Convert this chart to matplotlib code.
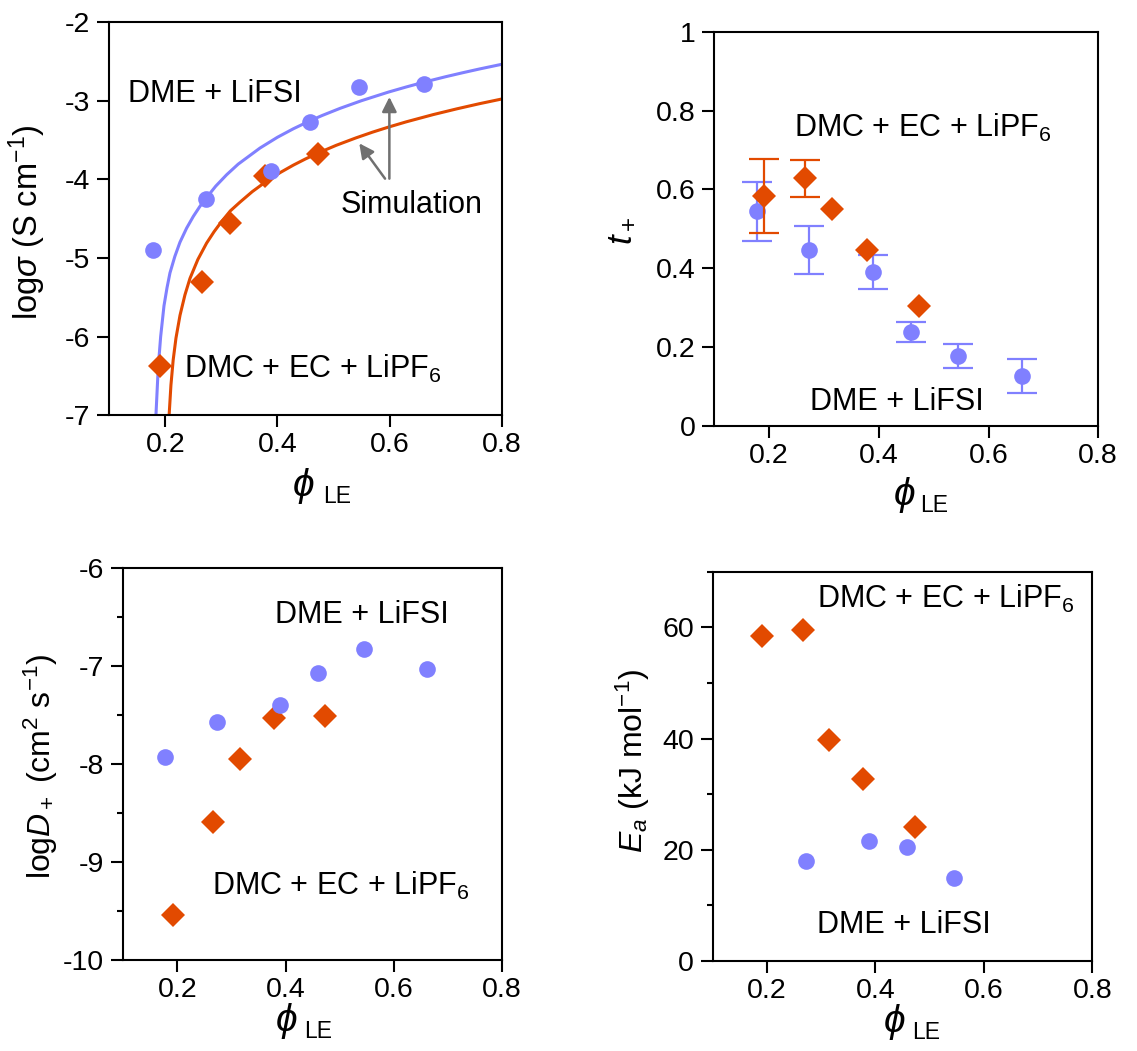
import numpy as np
import matplotlib
matplotlib.use('Agg')
import matplotlib.pyplot as plt
from matplotlib.ticker import MultipleLocator, FuncFormatter

plt.rcParams['font.family'] = ['Liberation Sans', 'DejaVu Sans']
plt.rcParams['mathtext.fontset'] = 'custom'
plt.rcParams['mathtext.rm'] = 'Liberation Sans'
plt.rcParams['mathtext.it'] = 'Liberation Sans:italic'
plt.rcParams['axes.unicode_minus'] = False

blue = '#8080FF'
orange = '#E24A00'

# volume fraction of liquid electrolyte for both systems
phi_dme = np.array([0.178, 0.273, 0.389, 0.459, 0.545, 0.661])
phi_dmc = np.array([0.191, 0.266, 0.315, 0.378, 0.4725])

# log conductivity (S/cm)
logsig_dme = [-4.90, -4.25, -3.89, -3.27, -2.82, -2.79]
logsig_dmc = [-6.37, -5.31, -4.55, -3.95, -3.68]

# simulated conductivity curves
sim_phi_dme = [0.1833, 0.1874, 0.1917, 0.1976, 0.2030, 0.2083, 0.2170, 0.2261, 0.2380,
               0.2500, 0.2615, 0.2737, 0.2900, 0.3094, 0.3300, 0.3689, 0.4000, 0.4283,
               0.4599, 0.4800, 0.5116, 0.5500, 0.5978, 0.6300, 0.6615, 0.7000, 0.7300,
               0.7600, 0.8000]
sim_sig_dme = [-7.00, -6.39, -6.00, -5.61, -5.38, -5.19, -4.98, -4.80, -4.62,
               -4.47, -4.345, -4.23, -4.085, -3.94, -3.805, -3.60, -3.463, -3.355,
               -3.247, -3.185, -3.095, -2.997, -2.888, -2.822, -2.761, -2.692, -2.642,
               -2.594, -2.534]
sim_phi_dmc = [0.2068, 0.2100, 0.2140, 0.2190, 0.2262, 0.2350, 0.2440, 0.2580, 0.2737,
               0.2870, 0.3005, 0.3160, 0.3332, 0.3550, 0.3808, 0.4050, 0.4283, 0.4500,
               0.4740, 0.5050, 0.5400, 0.5700, 0.5978, 0.6300, 0.6780, 0.7200, 0.7600,
               0.8000]
sim_sig_dmc = [-7.00, -6.62, -6.30, -6.02, -5.73, -5.47, -5.26, -5.02, -4.81,
               -4.665, -4.535, -4.40, -4.289, -4.156, -4.021, -3.912, -3.818, -3.739,
               -3.659, -3.565, -3.471, -3.397, -3.334, -3.266, -3.174, -3.101, -3.036,
               -2.976]

# cation transference number
tplus_dme = [0.544, 0.446, 0.391, 0.238, 0.178, 0.127]
tplus_dme_err = [0.075, 0.061, 0.043, 0.026, 0.031, 0.043]
tplus_dmc = [0.583, 0.628, 0.549, 0.445, 0.304]
tplus_dmc_err = [0.093, 0.047, 0.0, 0.0, 0.0]

# log cation diffusivity (cm2/s)
logD_dme = [-7.93, -7.57, -7.40, -7.07, -6.82, -7.03]
logD_dmc = [-9.54, -8.59, -7.95, -7.525, -7.51]

# activation energy (kJ/mol)
phi_ea_dme = phi_dme[1:5]
ea_dme = [18.0, 21.6, 20.5, 15.0]
ea_dmc = [58.5, 59.5, 39.7, 32.8, 24.1]

fmt = FuncFormatter(lambda v, p: f'{v:g}')
lbl_dme = 'DME + LiFSI'
lbl_dmc = 'DMC + EC + LiPF$_6$'


def style(ax, ylim, ymajor, yminor=None):
    ax.set_xlim(0.1, 0.8)
    ax.set_ylim(*ylim)
    ax.set_xticks([0.2, 0.4, 0.6, 0.8])
    ax.yaxis.set_major_locator(MultipleLocator(ymajor))
    if yminor:
        ax.yaxis.set_minor_locator(MultipleLocator(yminor))
    ax.xaxis.set_major_formatter(fmt)
    ax.yaxis.set_major_formatter(fmt)
    ax.tick_params(which='both', direction='out', width=1.5, labelsize=20.5)
    ax.tick_params(which='major', length=8.6)
    ax.tick_params(which='minor', length=4.3)
    ax.tick_params(axis='x', pad=3.5)
    ax.tick_params(axis='y', pad=5)
    for s in ax.spines.values():
        s.set_linewidth(1.5)


def points(ax, x, y, color, marker, ms):
    ax.plot(x, y, ls='none', marker=marker, ms=ms, color=color, mew=0)


def bars(ax, x, y, err, color):
    x, y, err = np.asarray(x), np.asarray(y), np.asarray(err)
    keep = err > 0
    ax.errorbar(x[keep], y[keep], yerr=err[keep], fmt='none', ecolor=color,
                elinewidth=1.6, capsize=11, capthick=1.6)


def phi_label(ax, x_phi, x_sub, y_base):
    # phi_LE axis title: large italic phi with a smaller "LE" subscript
    ax.text(x_phi, y_base + 0.018, r'$\phi$', fontsize=28, ha='right', va='baseline',
            transform=ax.transAxes)
    ax.text(x_sub, y_base, 'LE', fontsize=16.5, ha='left', va='baseline',
            transform=ax.transAxes)


fig = plt.figure(figsize=(11.37, 10.51), dpi=100)
ax1 = fig.add_axes([0.0961, 0.6051, 0.3451, 0.3736])
ax2 = fig.add_axes([0.6282, 0.5947, 0.3377, 0.3752])
ax3 = fig.add_axes([0.1084, 0.0866, 0.3333, 0.3727])
ax4 = fig.add_axes([0.6268, 0.0856, 0.3339, 0.3704])

# conductivity
style(ax1, (-7, -2), 1)
ax1.plot(sim_phi_dme, sim_sig_dme, color=blue, lw=2.2)
ax1.plot(sim_phi_dmc, sim_sig_dmc, color=orange, lw=2.2)
points(ax1, phi_dmc, logsig_dmc, orange, 'D', 12.5)
points(ax1, phi_dme, logsig_dme, blue, 'o', 12)
arrow = dict(arrowstyle='-|>', color='#707070', lw=1.8, mutation_scale=22, shrinkA=0, shrinkB=0)
ax1.annotate('', xy=(0.5997, -2.95), xytext=(0.5997, -3.99), arrowprops=arrow)
ax1.annotate('', xy=(0.546, -3.54), xytext=(0.592, -3.99), arrowprops=arrow)
ax1.text(0.5128, -4.432, 'Simulation', fontsize=22, va='baseline')
ax1.text(0.1328, -3.018, lbl_dme, fontsize=22, va='baseline')
ax1.text(0.2338, -6.525, lbl_dmc, fontsize=22, va='baseline')
ax1.set_ylabel(r'log$\sigma$ (S cm$^{-1}$)', fontsize=23.5)
ax1.yaxis.set_label_coords(-0.156, 0.49)
phi_label(ax1, 0.524, 0.545, -0.223)

# transference number
style(ax2, (0, 1), 0.2)
bars(ax2, phi_dme, tplus_dme, tplus_dme_err, blue)
points(ax2, phi_dme, tplus_dme, blue, 'o', 12)
bars(ax2, phi_dmc, tplus_dmc, tplus_dmc_err, orange)
points(ax2, phi_dmc, tplus_dmc, orange, 'D', 12.5)
ax2.text(0.2458, 0.7337, lbl_dmc, fontsize=22, va='baseline')
ax2.text(0.2744, 0.0406, lbl_dme, fontsize=22, va='baseline')
ax2.set_ylabel(r'$t_+$', fontsize=25)
ax2.yaxis.set_label_coords(-0.201, 0.495)
phi_label(ax2, 0.5227, 0.5357, -0.2173)

# diffusivity
style(ax3, (-10, -6), 1, 0.5)
points(ax3, phi_dmc, logD_dmc, orange, 'D', 12.5)
points(ax3, phi_dme, logD_dme, blue, 'o', 12)
ax3.text(0.3802, -6.562, lbl_dme, fontsize=22, va='baseline')
ax3.text(0.2644, -9.336, lbl_dmc, fontsize=22, va='baseline')
ax3.set_ylabel(r'log$D_+$ (cm$^2$ s$^{-1}$)', fontsize=23)
ax3.yaxis.set_label_coords(-0.167, 0.495)
phi_label(ax3, 0.4583, 0.4768, -0.199)

# activation energy
style(ax4, (0, 70), 20, 10)
points(ax4, phi_dmc, ea_dmc, orange, 'D', 12.5)
points(ax4, phi_ea_dme, ea_dme, blue, 'o', 12)
ax4.text(0.2929, 63.42, lbl_dmc, fontsize=22, va='baseline')
ax4.text(0.2929, 4.98, lbl_dme, fontsize=22, va='baseline')
ax4.set_ylabel(r'$E_a$ (kJ mol$^{-1}$)', fontsize=23)
ax4.yaxis.set_label_coords(-0.16, 0.514)
phi_label(ax4, 0.5066, 0.5242, -0.201)

fig.savefig('out.png', dpi=100)
